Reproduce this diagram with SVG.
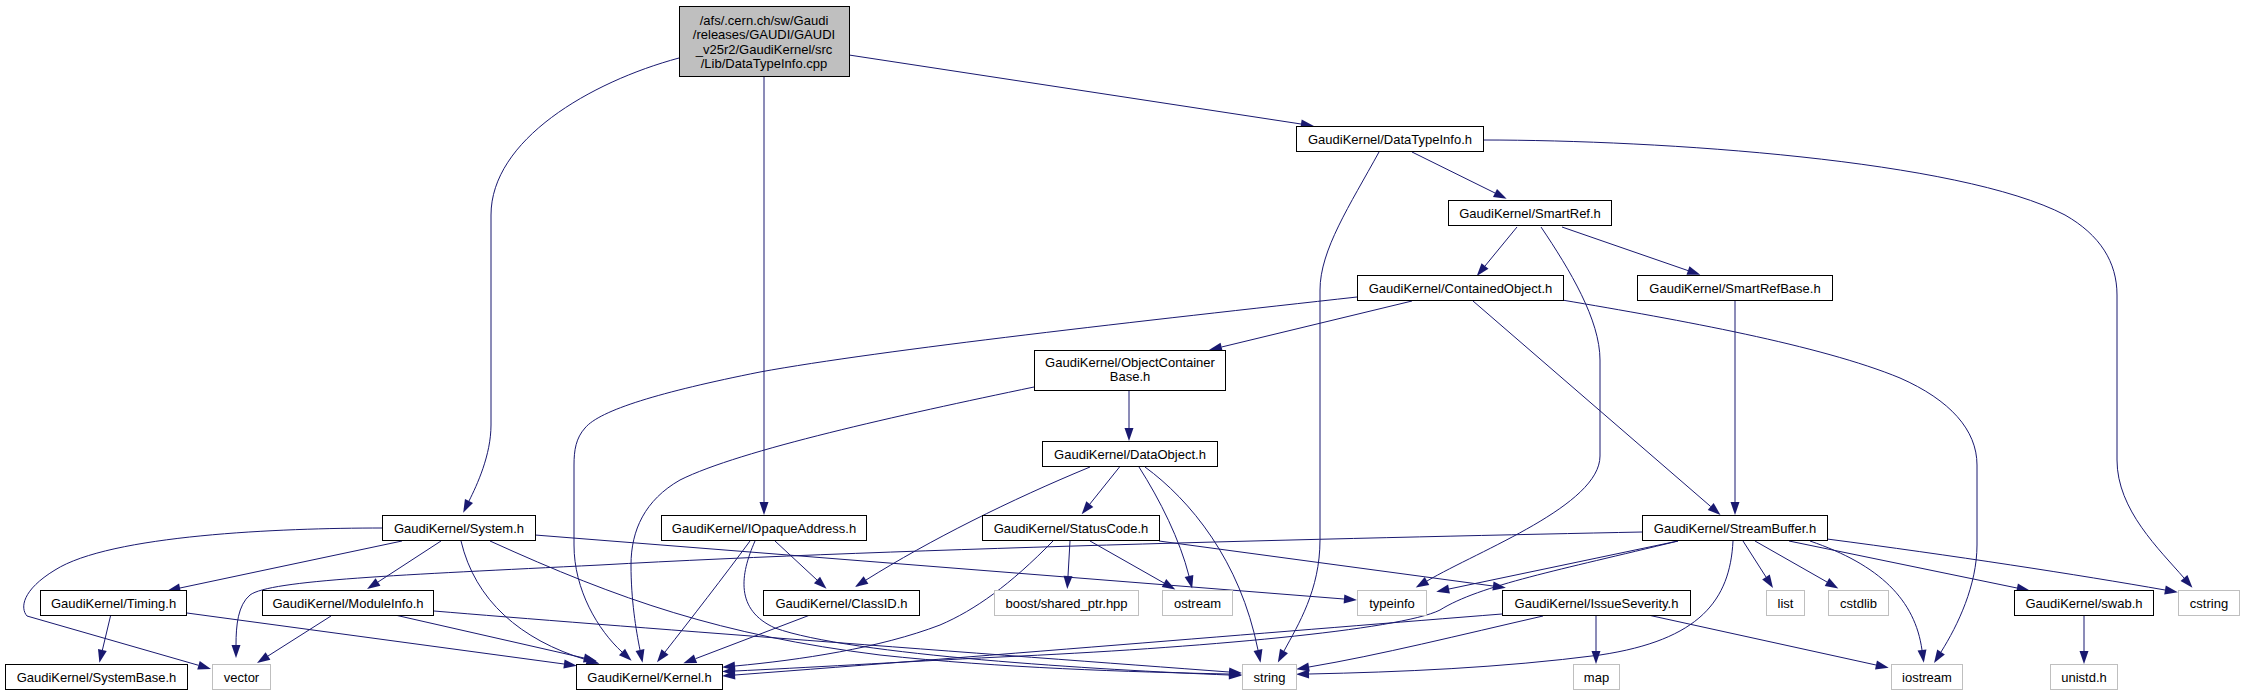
<svg xmlns="http://www.w3.org/2000/svg" width="2244" height="696" viewBox="0 0 2244 696">
<style>
.node rect{fill:#fff;stroke:#000;stroke-width:1}
.ext rect{stroke:#bfbfbf}
.root rect{fill:#bfbfbf}
text{font-family:"Liberation Sans",Arial,Helvetica,sans-serif;font-size:13px;text-anchor:middle;fill:#000}
#edges path{fill:none;stroke:#191970;stroke-width:1;marker-end:url(#ah)}
</style>
<defs>
<marker id="ah" markerWidth="13" markerHeight="9" refX="0" refY="4.5" orient="auto" markerUnits="userSpaceOnUse" overflow="visible"><path d="M0,0 L13,4.5 L0,9 Z" fill="#191970"/></marker>
</defs>
<rect width="2244" height="696" fill="#fff"/>
<g id="edges">
<path d="M679,58 C590,82 491,140 491,215 L491,425 C491,455 477,485 469,501"/>
<path d="M764,76 L764,502"/>
<path d="M849,55 L1301,124"/>
<path d="M1379,152 C1350,205 1320,250 1320,290 L1320,540 C1320,590 1298,625 1284,651"/>
<path d="M1412,152 L1495,193"/>
<path d="M1483,140 C1660,140 1960,160 2065,215 C2100,235 2117,262 2117,295 L2117,460 C2117,510 2160,550 2184,578"/>
<path d="M1517,227 L1485,266"/>
<path d="M1541,227 C1570,270 1600,320 1600,360 L1600,456 C1600,505 1480,550 1427,581"/>
<path d="M1562,227 L1688,270.6"/>
<path d="M1357,297 C1150,320 880,350 760,372 C660,392 600,410 585,428 C576,438 574,450 574,465 L574,545 C574,590 598,630 622,652"/>
<path d="M1412,301 L1221.6,347"/>
<path d="M1473,301 L1710.7,506.5"/>
<path d="M1562,300 C1680,320 1820,345 1900,378 C1950,400 1977,430 1977,465 L1977,545 C1977,585 1958,625 1941,652"/>
<path d="M1735,300 L1735,502"/>
<path d="M1034,387 C900,415 740,450 680,480 C645,500 631,530 631,565 C631,600 636,630 640,650"/>
<path d="M1129,390 L1129,428"/>
<path d="M1090,467 C1010,500 930,540 866,580"/>
<path d="M1119.5,467 L1089.8,504.1"/>
<path d="M1139,467 C1160,500 1180,540 1189,576"/>
<path d="M1145,467 C1190,500 1240,560 1258,650"/>
<path d="M1053,541 C1010,585 975,610 940,625 C880,648 800,660 735,666"/>
<path d="M1070,541 L1068,576"/>
<path d="M1090,541 L1164,583"/>
<path d="M1159,541 L1493,586"/>
<path d="M382,528 C280,528 110,535 55,570 C22,590 20,608 27,616 L198.5,665.3"/>
<path d="M402,541 L180,588"/>
<path d="M441,541 L378,582"/>
<path d="M461,541 C475,600 520,640 587,660"/>
<path d="M490,541 C620,600 720,635 880,655 C1000,668 1130,672 1229,674"/>
<path d="M535,535 L1344,599"/>
<path d="M775,541 L817,580"/>
<path d="M750,541 C725,575 690,620 665,652"/>
<path d="M755,541 C740,575 735,610 775,628 C850,655 1100,670 1229,675"/>
<path d="M110.5,616 L102.4,650"/>
<path d="M187,613 L564,664"/>
<path d="M331,616 L268,656"/>
<path d="M395,615 L584,658"/>
<path d="M434,611 C600,625 1000,655 1229,672"/>
<path d="M810,615 L695.5,658.7"/>
<path d="M1642,532 C1400,537 900,548 600,565 C400,575 270,580 250,595 C238,605 236,625 236,645"/>
<path d="M1678,541 L1449,589"/>
<path d="M1678,541 C1560,570 1480,585 1440,610 C1400,630 1200,648 1000,657 C900,662 800,668 735,671"/>
<path d="M1733,541 C1730,600 1700,640 1600,655 C1500,668 1400,672 1309,674"/>
<path d="M1743,541 L1766,577"/>
<path d="M1755,541 L1827,582"/>
<path d="M1810,541 C1880,565 1915,600 1922,650"/>
<path d="M1789,541 L2017,588"/>
<path d="M1827,539 C1950,555 2080,575 2165,590"/>
<path d="M1502,614 C1300,630 1000,655 735,675"/>
<path d="M1543,616 C1460,635 1380,655 1309,667"/>
<path d="M1596,615 L1596,651"/>
<path d="M1648,615 L1876,665"/>
<path d="M2084,615 L2084,651"/>
</g>
<g id="n0" class="node root"><rect x="679.5" y="6.5" width="170" height="70"/><text x="764" y="24.5">/afs/.cern.ch/sw/Gaudi</text><text x="764" y="39">/releases/GAUDI/GAUDI</text><text x="764" y="53.5">_v25r2/GaudiKernel/src</text><text x="764" y="68">/Lib/DataTypeInfo.cpp</text></g>
<g id="n1" class="node"><rect x="1296.5" y="126.5" width="187" height="25"/><text x="1390" y="143.5">GaudiKernel/DataTypeInfo.h</text></g>
<g id="n2" class="node"><rect x="1448.5" y="200.5" width="163" height="25"/><text x="1530" y="217.5">GaudiKernel/SmartRef.h</text></g>
<g id="n3" class="node"><rect x="1357.5" y="275.5" width="206" height="25"/><text x="1460.5" y="292.5">GaudiKernel/ContainedObject.h</text></g>
<g id="n4" class="node"><rect x="1637.5" y="275.5" width="195" height="25"/><text x="1735" y="292.5">GaudiKernel/SmartRefBase.h</text></g>
<g id="n5" class="node"><rect x="1034.5" y="350.5" width="191" height="40"/><text x="1130" y="366.5">GaudiKernel/ObjectContainer</text><text x="1130" y="381">Base.h</text></g>
<g id="n6" class="node"><rect x="1042.5" y="441.5" width="175" height="25"/><text x="1130" y="458.5">GaudiKernel/DataObject.h</text></g>
<g id="n7" class="node"><rect x="382.5" y="515.5" width="153" height="25"/><text x="459" y="532.5">GaudiKernel/System.h</text></g>
<g id="n8" class="node"><rect x="661.5" y="515.5" width="205" height="25"/><text x="764" y="532.5">GaudiKernel/IOpaqueAddress.h</text></g>
<g id="n9" class="node"><rect x="982.5" y="515.5" width="177" height="25"/><text x="1071" y="532.5">GaudiKernel/StatusCode.h</text></g>
<g id="n10" class="node"><rect x="1642.5" y="515.5" width="185" height="25"/><text x="1735" y="532.5">GaudiKernel/StreamBuffer.h</text></g>
<g id="n11" class="node"><rect x="40.5" y="590.5" width="146" height="25"/><text x="113.5" y="607.5">GaudiKernel/Timing.h</text></g>
<g id="n12" class="node"><rect x="262.5" y="590.5" width="171" height="25"/><text x="348" y="607.5">GaudiKernel/ModuleInfo.h</text></g>
<g id="n13" class="node"><rect x="763.5" y="590.5" width="156" height="25"/><text x="841.5" y="607.5">GaudiKernel/ClassID.h</text></g>
<g id="n14" class="node ext"><rect x="994.5" y="590.5" width="144" height="25"/><text x="1066.5" y="607.5">boost/shared_ptr.hpp</text></g>
<g id="n15" class="node ext"><rect x="1162.5" y="590.5" width="70" height="25"/><text x="1197.5" y="607.5">ostream</text></g>
<g id="n16" class="node ext"><rect x="1357.5" y="590.5" width="69" height="25"/><text x="1392" y="607.5">typeinfo</text></g>
<g id="n17" class="node"><rect x="1502.5" y="590.5" width="188" height="25"/><text x="1596.5" y="607.5">GaudiKernel/IssueSeverity.h</text></g>
<g id="n18" class="node ext"><rect x="1766.5" y="590.5" width="38" height="25"/><text x="1785.5" y="607.5">list</text></g>
<g id="n19" class="node ext"><rect x="1828.5" y="590.5" width="60" height="25"/><text x="1858.5" y="607.5">cstdlib</text></g>
<g id="n20" class="node"><rect x="2014.5" y="590.5" width="139" height="25"/><text x="2084" y="607.5">GaudiKernel/swab.h</text></g>
<g id="n21" class="node ext"><rect x="2178.5" y="590.5" width="61" height="25"/><text x="2209" y="607.5">cstring</text></g>
<g id="n22" class="node"><rect x="5.5" y="664.5" width="182" height="25"/><text x="96.5" y="681.5">GaudiKernel/SystemBase.h</text></g>
<g id="n23" class="node ext"><rect x="212.5" y="664.5" width="58" height="25"/><text x="241.5" y="681.5">vector</text></g>
<g id="n24" class="node"><rect x="576.5" y="664.5" width="146" height="25"/><text x="649.5" y="681.5">GaudiKernel/Kernel.h</text></g>
<g id="n25" class="node ext"><rect x="1242.5" y="664.5" width="54" height="25"/><text x="1269.5" y="681.5">string</text></g>
<g id="n26" class="node ext"><rect x="1573.5" y="664.5" width="46" height="25"/><text x="1596.5" y="681.5">map</text></g>
<g id="n27" class="node ext"><rect x="1891.5" y="664.5" width="71" height="25"/><text x="1927" y="681.5">iostream</text></g>
<g id="n28" class="node ext"><rect x="2050.5" y="664.5" width="67" height="25"/><text x="2084" y="681.5">unistd.h</text></g>
</svg>
